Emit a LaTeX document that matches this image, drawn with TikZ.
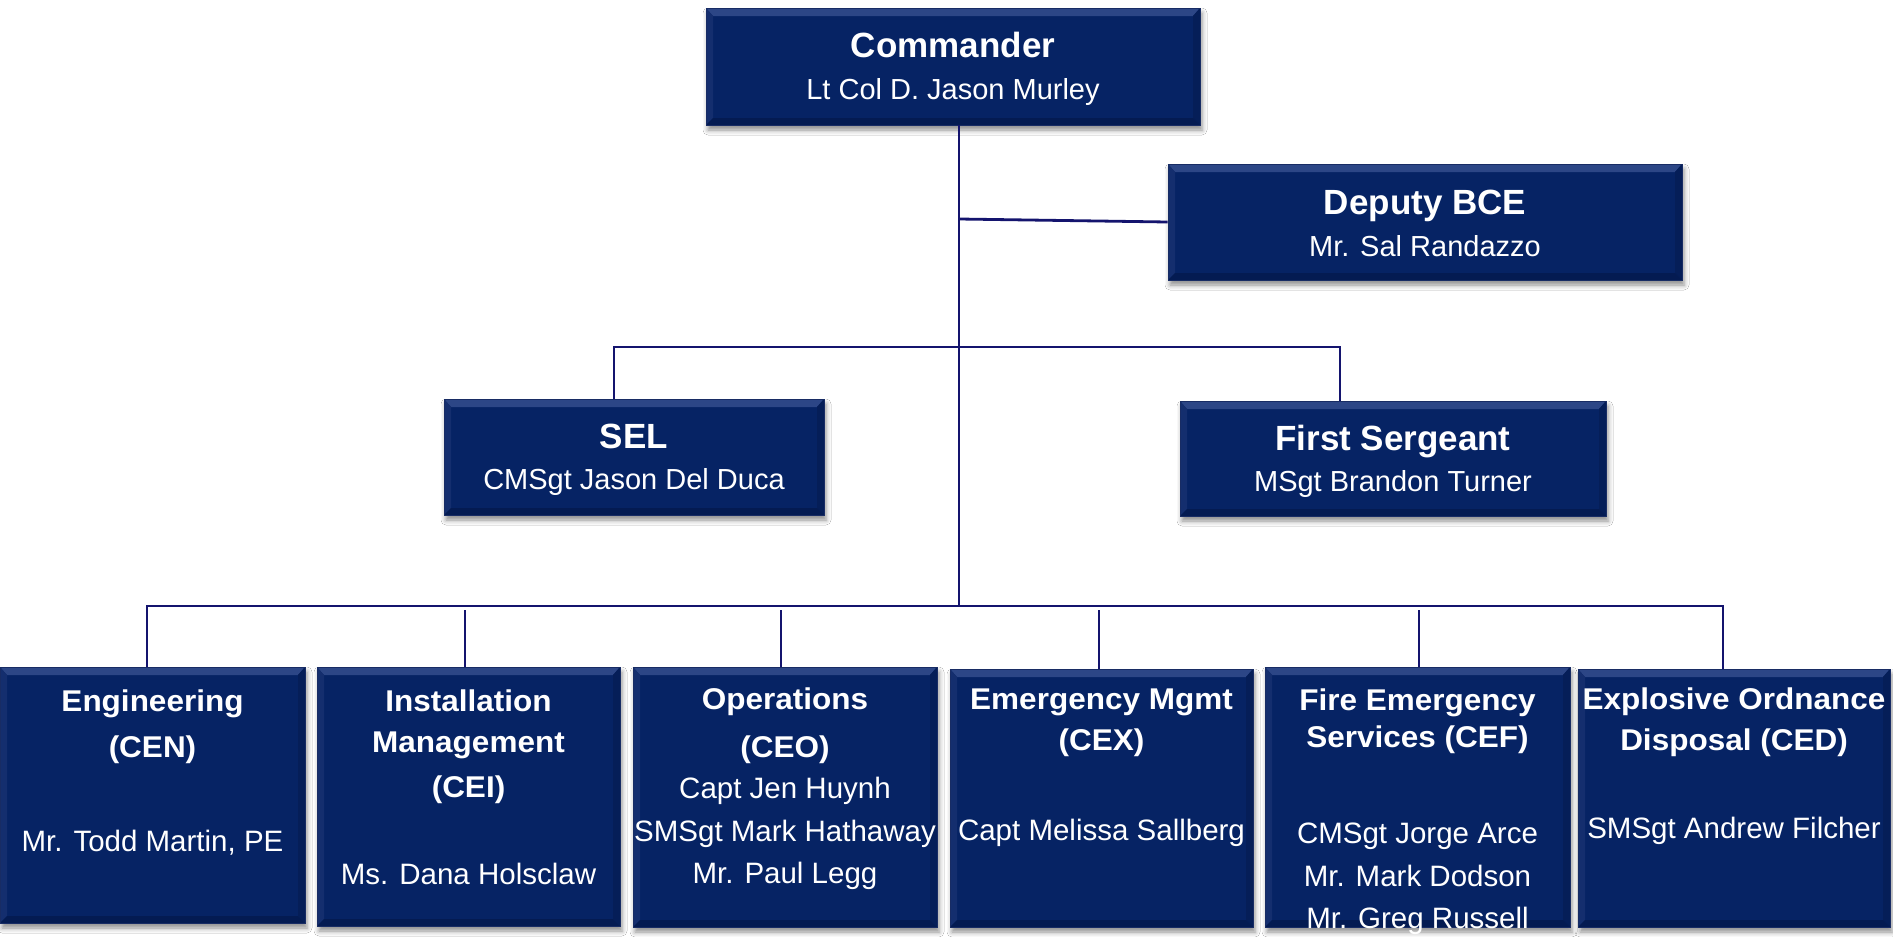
\documentclass[tikz,border=0pt]{standalone}
\usepackage{fontspec}
\setmainfont{Liberation Sans}
\newfontfamily\wideb[FakeStretch=1.05]{Liberation Sans}
\usetikzlibrary{shadows.blur}
\definecolor{boxfill}{RGB}{6,35,100}
\definecolor{boxedge}{RGB}{24,44,100}
\definecolor{bevtop}{RGB}{44,70,134}
\definecolor{bevleft}{RGB}{20,46,110}
\definecolor{bevright}{RGB}{5,30,88}
\definecolor{bevbot}{RGB}{4,27,82}
\definecolor{linecol}{RGB}{20,20,110}
\tikzset{
  box/.style={rectangle, fill=boxfill, draw=boxedge, line width=0.8pt, inner sep=0pt,
    blur shadow={shadow xshift=2pt, shadow yshift=-5pt, shadow blur radius=5pt, shadow opacity=45},
    path picture={
      \coordinate (pnw) at (path picture bounding box.north west);
      \coordinate (pne) at (path picture bounding box.north east);
      \coordinate (psw) at (path picture bounding box.south west);
      \coordinate (pse) at (path picture bounding box.south east);
      \fill[bevtop] (pnw) -- (pne) -- ([shift={(-7pt,-8pt)}]pne) -- ([shift={(7pt,-8pt)}]pnw) -- cycle;
      \fill[bevleft] (pnw) -- ([shift={(7pt,-8pt)}]pnw) -- ([shift={(7pt,7pt)}]psw) -- (psw) -- cycle;
      \fill[bevright] (pne) -- (pse) -- ([shift={(-7pt,7pt)}]pse) -- ([shift={(-7pt,-8pt)}]pne) -- cycle;
      \fill[bevbot] (psw) -- ([shift={(7pt,7pt)}]psw) -- ([shift={(-7pt,7pt)}]pse) -- (pse) -- cycle;
    }},
  txt/.style={anchor=base, text=white, inner sep=0pt},
  ttl/.style={txt, font=\fontsize{35}{40}\selectfont\bfseries},
  sub/.style={txt, font=\fontsize{29}{34}\selectfont},
  btl/.style={txt, font=\wideb\fontsize{30}{36}\selectfont\bfseries},
  bnm/.style={txt, font=\fontsize{29.5}{35}\selectfont},
  conn/.style={draw=linecol, line width=2.8pt}
}
\begin{document}
\begin{tikzpicture}[x=1pt,y=-1pt]
\useasboundingbox (0,0) rectangle (1893,937);
\fill[white] (0,0) rectangle (1893,937);

% boxes
\node[box, minimum width=494pt, minimum height=117pt] (cmd) at (953,66.5) {};
\node[box, minimum width=514pt, minimum height=116pt] (dep) at (1425,222) {};
\node[box, minimum width=380pt, minimum height=116pt] (sel) at (634,457) {};
\node[box, minimum width=426pt, minimum height=115pt] (fs) at (1393,458.5) {};
\node[box, minimum width=305pt, minimum height=256pt] (eng) at (152.5,795) {};
\node[box, minimum width=303pt, minimum height=259pt] (inst) at (468.5,796.5) {};
\node[box, minimum width=304pt, minimum height=260pt] (ops) at (785,797) {};
\node[box, minimum width=303pt, minimum height=258pt] (emg) at (1101.5,798) {};
\node[box, minimum width=305pt, minimum height=260pt] (fire) at (1417.5,797) {};
\node[box, minimum width=312pt, minimum height=258pt] (eod) at (1734,798) {};

% connectors
\coordinate (busmid) at (959,606);
\coordinate (tdep) at (959,219);
\coordinate (mL) at (614,347);
\coordinate (mR) at (1340,347);
\coordinate (bL) at (147,606);
\coordinate (bR) at (1723,606);
\coordinate (d2) at (465,610);
\coordinate (d3) at (781,610);
\coordinate (d4) at (1099,610);
\coordinate (d5) at (1419,610);
\draw[conn] ([xshift=6pt]cmd.south) -- (busmid);
\draw[conn] (tdep) -- (dep.west);
\draw[conn] (mL |- sel.north) -- (mL) -- (mR) -- (mR |- fs.north);
\draw[conn] (bL |- eng.north) -- (bL) -- (bR) -- (bR |- eod.north);
\draw[conn] (d2) -- (d2 |- inst.north);
\draw[conn] (d3) -- (d3 |- ops.north);
\draw[conn] (d4) -- (d4 |- emg.north);
\draw[conn] (d5) -- (d5 |- fire.north);

% texts
\node[ttl] (cmd1) at (953,57) {Commander};
\node[sub] (cmd2) at (953,99) {Lt Col D. Jason Murley};
\node[ttl] (dep1) at (1425,214) {Deputy BCE};
\node[sub] (dep2) at (1425,256) {Mr. Sal Randazzo};
\node[ttl] (sel1) at (634,448) {SEL};
\node[sub] (sel2) at (634,489) {CMSgt Jason Del Duca};
\node[ttl] (fs1) at (1393,450) {First Sergeant};
\node[sub] (fs2) at (1393,491) {MSgt Brandon Turner};

\node[btl] (eng1) at (152.5,711) {Engineering};
\node[btl] (eng2) at (152.5,757) {(CEN)};
\node[bnm] (eng3) at (152.5,851) {Mr. Todd Martin, PE};

\node[btl] (inst1) at (468.5,711) {Installation};
\node[btl] (inst2) at (468.5,752) {Management};
\node[btl] (inst3) at (468.5,797) {(CEI)};
\node[bnm] (inst4) at (468.5,884) {Ms. Dana Holsclaw};

\node[btl] (ops1) at (785,709) {Operations};
\node[btl] (ops2) at (785,757) {(CEO)};
\node[bnm] (ops3) at (785,798) {Capt Jen Huynh};
\node[bnm] (ops4) at (785,841) {SMSgt Mark Hathaway};
\node[bnm] (ops5) at (785,883) {Mr. Paul Legg};

\node[btl] (emg1) at (1101.5,709) {Emergency Mgmt};
\node[btl] (emg2) at (1101.5,750) {(CEX)};
\node[bnm] (emg3) at (1101.5,840) {Capt Melissa Sallberg};

\node[btl] (fire1) at (1417.5,710) {Fire Emergency};
\node[btl] (fire2) at (1417.5,747) {Services (CEF)};
\node[bnm] (fire3) at (1417.5,843) {CMSgt Jorge Arce};
\node[bnm] (fire4) at (1417.5,886) {Mr. Mark Dodson};
\node[bnm] (fire5) at (1417.5,928) {Mr. Greg Russell};

\node[btl] (eod1) at (1734,709) {Explosive Ordnance};
\node[btl] (eod2) at (1734,750) {Disposal (CED)};
\node[bnm] (eod3) at (1734,838) {SMSgt Andrew Filcher};
\end{tikzpicture}
\end{document}
